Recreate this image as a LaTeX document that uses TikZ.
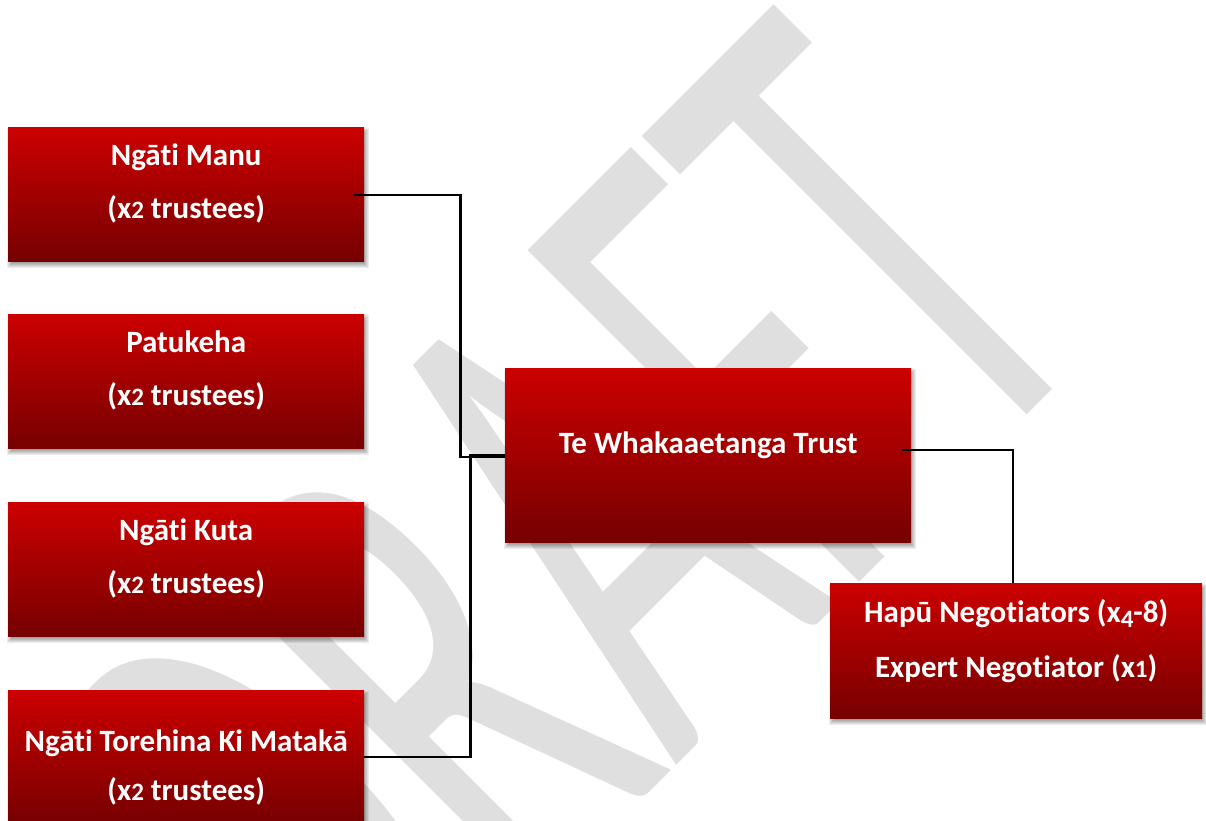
\documentclass[tikz,border=0pt]{standalone}
\usepackage{fontspec}
\setmainfont{Carlito}[Ligatures={NoCommon,NoContextual}]
\newfontfamily\wmfont{Carlito}
\usetikzlibrary{calc}
\definecolor{boxtop}{RGB}{204,0,0}
\definecolor{boxbot}{RGB}{118,0,0}
\definecolor{wmgray}{RGB}{223,223,223}
\newcommand\osf[1]{{\fontsize{25}{25}\selectfont\bfseries #1}}
\newcommand\osfd[1]{\raisebox{-5pt}{\fontsize{25}{25}\selectfont\bfseries #1}}
\newcommand\redbox[5]{%
  \foreach \e in {-2,-1,0,1,2,3}{
    \fill[black,opacity=.07] (#2-\e+2,#3-\e+4) rectangle (#2+#4+\e+2,#3+#5+\e+4);
  }
  \node[rbox, minimum width=#4pt, minimum height=#5pt, anchor=north west] (#1) at (#2,#3) {};
}
\begin{document}
\begin{tikzpicture}[x=1pt,y=-1pt,
  rbox/.style={rectangle, inner sep=0pt, draw=none, top color=boxtop, bottom color=boxbot},
  lbl/.style={anchor=base, inner sep=0pt, text=white, font=\fontsize{31}{37}\selectfont\bfseries},
  conn/.style={draw=black, line width=2.2pt}]
\useasboundingbox (0,0) rectangle (1206,820);
\clip (0,0) rectangle (1206,820);
\fill[white] (0,0) rectangle (1206,820);
% watermark
\begin{scope}[shift={(1110,332)}]
  \begin{scope}[cm={2.843,2.843,-5.169,5.169,(0,0)}]
    \node[transform shape, anchor=base east, inner sep=0pt, text=wmgray,
      font=\wmfont\fontsize{100}{100}\selectfont] (wmk) at (0,0) {DRAFT};
  \end{scope}
\end{scope}
% boxes
\redbox{m1}{8}{127}{356}{134}
\redbox{m2}{8}{314}{356}{134}
\redbox{m3}{8}{502}{356}{134}
\redbox{m4}{8}{690}{356}{134}
\redbox{ct}{505}{368}{406}{174}
\redbox{rt}{830}{583}{372}{135}
% texts
\node[lbl] (t1a) at ($(m1.north)+(0,38)$) {Ngāti Manu};
\node[lbl] (t1b) at ($(m1.north)+(0,91)$) {(x\osf{2} trustees)};
\node[lbl] (t2a) at ($(m2.north)+(0,38)$) {Patukeha};
\node[lbl] (t2b) at ($(m2.north)+(0,91)$) {(x\osf{2} trustees)};
\node[lbl] (t3a) at ($(m3.north)+(0,38)$) {Ngāti Kuta};
\node[lbl] (t3b) at ($(m3.north)+(0,91)$) {(x\osf{2} trustees)};
\node[lbl] (t4a) at ($(m4.north)+(0,61)$) {Ngāti Torehina Ki Matakā};
\node[lbl] (t4b) at ($(m4.north)+(0,110)$) {(x\osf{2} trustees)};
\node[lbl] (tca) at ($(ct.north)+(0,85)$) {Te Whakaaetanga Trust};
\node[lbl] (tra) at ($(rt.north)+(0,39)$) {Hapū Negotiators (x\osfd{4}-8)};
\node[lbl] (trb) at ($(rt.north)+(0,94)$) {Expert Negotiator (x\osf{1})};
% connectors
\draw[conn] ($(m1.east)+(-11,1)$) -- ++(107,0) |- ($(ct.west)+(0,2)$);
\draw[conn] (m4.east) -- ++(106,0) |- (ct.west);
\draw[conn] ($(ct.east)+(-9,-5)$) -| ($(rt.north)+(-3,0)$);
\end{tikzpicture}
\end{document}
